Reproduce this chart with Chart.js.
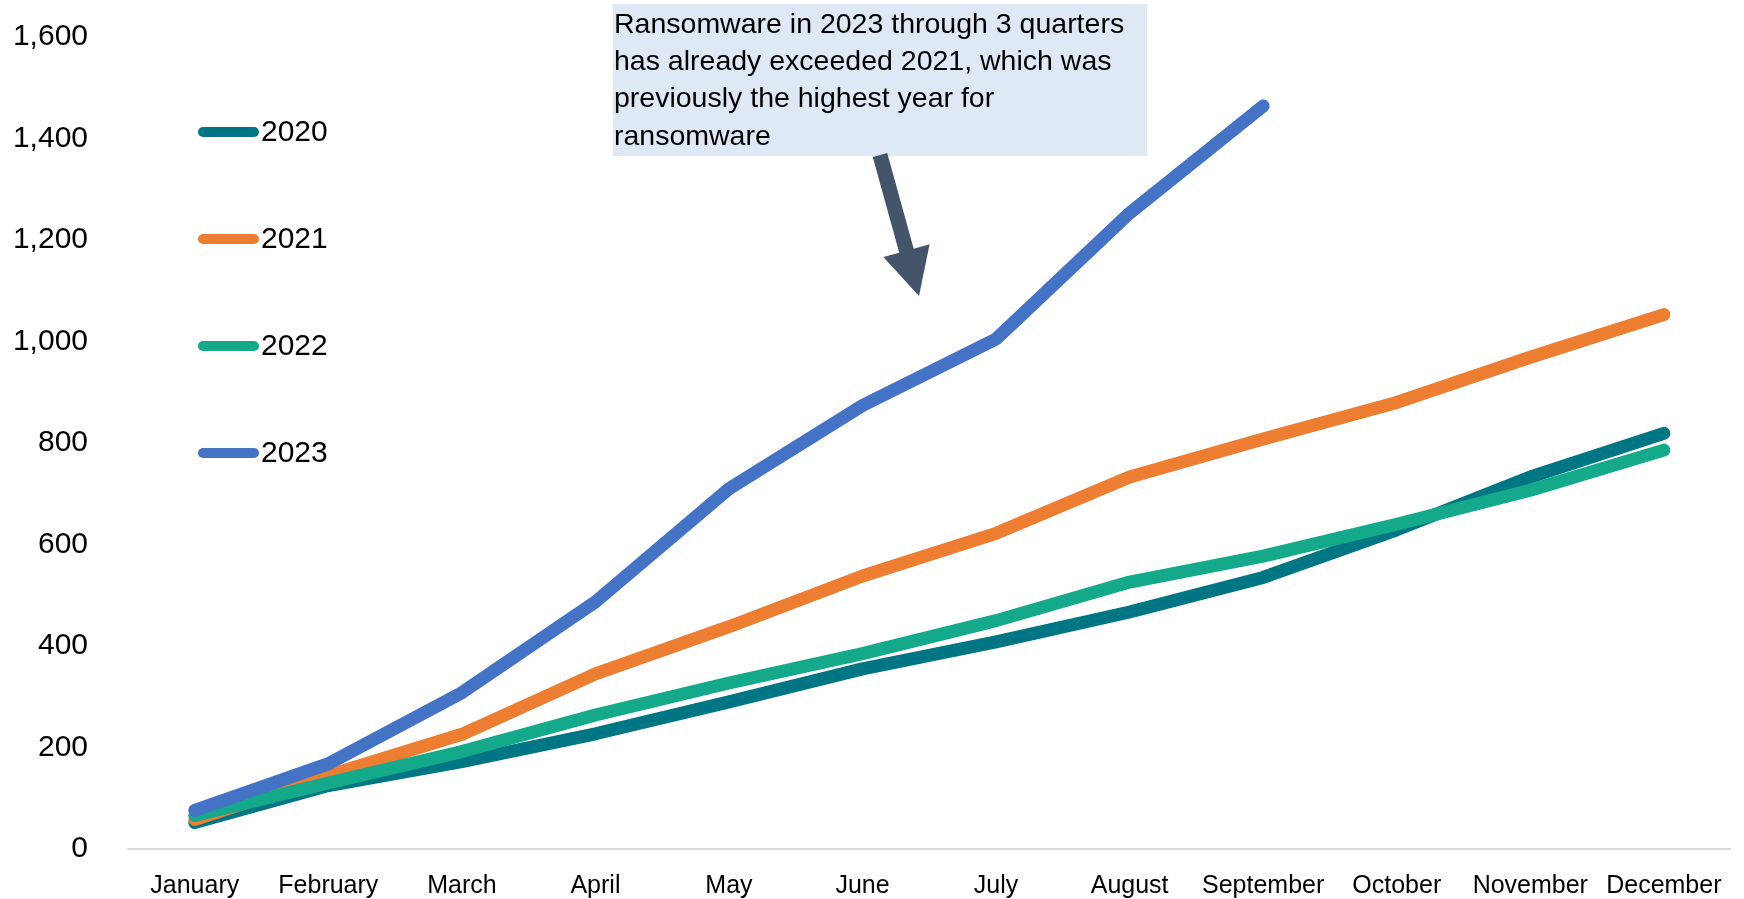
<!DOCTYPE html>
<html>
<head>
<meta charset="utf-8">
<script src="https://cdn.jsdelivr.net/npm/chart.js@4.4.1/dist/chart.umd.min.js"></script>
<style>
  body { margin: 0; background: #fff; }
  canvas { display: block; }
</style>
</head>
<body>
<canvas id="chart" width="1744" height="899"></canvas>
<script>
// --- DONNEES --- //
const months = ["January", "February", "March", "April", "May", "June", "July", "August", "September", "October", "November", "December"];
const y2020 = [52, 125, 172, 227, 290, 355, 408, 467, 535, 629, 733, 819];
const y2021 = [58, 145, 226, 345, 438, 538, 622, 733, 808, 880, 969, 1053];
const y2022 = [66, 130, 192, 264, 327, 385, 450, 526, 577, 640, 707, 786];
const y2023 = [76, 168, 308, 487, 710, 874, 1005, 1253, 1464];
const yTicks = [0, 200, 400, 600, 800, 1000, 1200, 1400, 1600];

const noteLines = [
    "Ransomware in 2023 through 3 quarters",
    "has already exceeded 2021, which was",
    "previously the highest year for",
    "ransomware"
];

const FONT = '"Liberation Sans", Arial, sans-serif';

function serie(label, data, color, order) {
    return {
        label: label,
        data: data,
        borderColor: color,
        backgroundColor: color,
        borderWidth: 13,
        borderCapStyle: 'round',
        borderJoinStyle: 'round',
        pointRadius: 0,
        tension: 0,
        fill: false,
        order: order
    };
}

// Legende a gauche (traits + annees)
const legendPlugin = {
    id: 'sideLegend',
    afterDraw(chart) {
        const ctx = chart.ctx;
        const sets = chart.data.datasets.slice().sort((a, b) => a.label.localeCompare(b.label));
        ctx.save();
        ctx.font = '30px ' + FONT;
        ctx.textBaseline = 'middle';
        ctx.lineCap = 'round';
        sets.forEach((ds, i) => {
            const y = 132 + i * 107;
            ctx.strokeStyle = ds.borderColor;
            ctx.lineWidth = 10;
            ctx.beginPath();
            ctx.moveTo(203, y);
            ctx.lineTo(254, y);
            ctx.stroke();
            ctx.fillStyle = '#000';
            ctx.fillText(ds.label, 261, y + 1);
        });
        ctx.restore();
    }
};

// Encadre + fleche
const calloutPlugin = {
    id: 'callout',
    afterDraw(chart) {
        const ctx = chart.ctx;
        ctx.save();
        ctx.fillStyle = '#dee9f5';
        ctx.fillRect(613, 4, 534, 152);

        ctx.fillStyle = '#000';
        ctx.font = '28.5px ' + FONT;
        ctx.textBaseline = 'middle';
        noteLines.forEach((t, i) => ctx.fillText(t, 614, 25 + i * 37.3));

        // fleche
        const sx = 880, sy = 155, tx = 919, ty = 296;
        const len = Math.hypot(tx - sx, ty - sy);
        const ux = (tx - sx) / len, uy = (ty - sy) / len;
        const nx = -uy, ny = ux;
        const head = 47, hw = 24, sw = 7.5;
        const bx = tx - ux * head, by = ty - uy * head;
        ctx.fillStyle = '#44546a';
        ctx.beginPath();
        ctx.moveTo(sx + nx * sw, sy + ny * sw);
        ctx.lineTo(bx + nx * sw, by + ny * sw);
        ctx.lineTo(bx + nx * hw, by + ny * hw);
        ctx.lineTo(tx, ty);
        ctx.lineTo(bx - nx * hw, by - ny * hw);
        ctx.lineTo(bx - nx * sw, by - ny * sw);
        ctx.lineTo(sx - nx * sw, sy - ny * sw);
        ctx.closePath();
        ctx.fill();
        ctx.restore();
    }
};

const ctx = document.getElementById("chart").getContext('2d');

new Chart(ctx, {
    type: 'line',
    data: {
        labels: months,
        datasets: [
            serie("2020", y2020, '#007584', 4),
            serie("2021", y2021, '#ed7d31', 3),
            serie("2022", y2022, '#13a98a', 2),
            serie("2023", y2023, '#4472c4', 1)
        ]
    },
    options: {
        responsive: false,
        animation: false,
        layout: { padding: { top: 37, right: 12, left: 0, bottom: 0 } },
        plugins: {
            legend: { display: false },
            tooltip: { enabled: false }
        },
        scales: {
            x: {
                offset: true,
                grid: { display: false, drawTicks: false },
                border: { display: true, color: '#d9d9d9', width: 2 },
                ticks: {
                    color: '#000',
                    font: { size: 25, family: FONT },
                    padding: 22,
                    autoSkip: false,
                    maxRotation: 0
                },
                afterFit: s => { s.height = 50; }
            },
            y: {
                min: yTicks[0],
                max: yTicks[yTicks.length - 1],
                // tickLength sert d'ecart entre les labels et la zone du graphe
                grid: { display: false, drawTicks: true, tickLength: 40 },
                border: { display: false },
                ticks: {
                    stepSize: yTicks[1] - yTicks[0],
                    color: '#000',
                    font: { size: 30, family: FONT },
                    padding: 0,
                    callback: v => v.toLocaleString('en-US')
                },
                afterFit: s => { s.width = 128; }
            }
        }
    },
    plugins: [legendPlugin, calloutPlugin]
});
</script>
</body>
</html>
